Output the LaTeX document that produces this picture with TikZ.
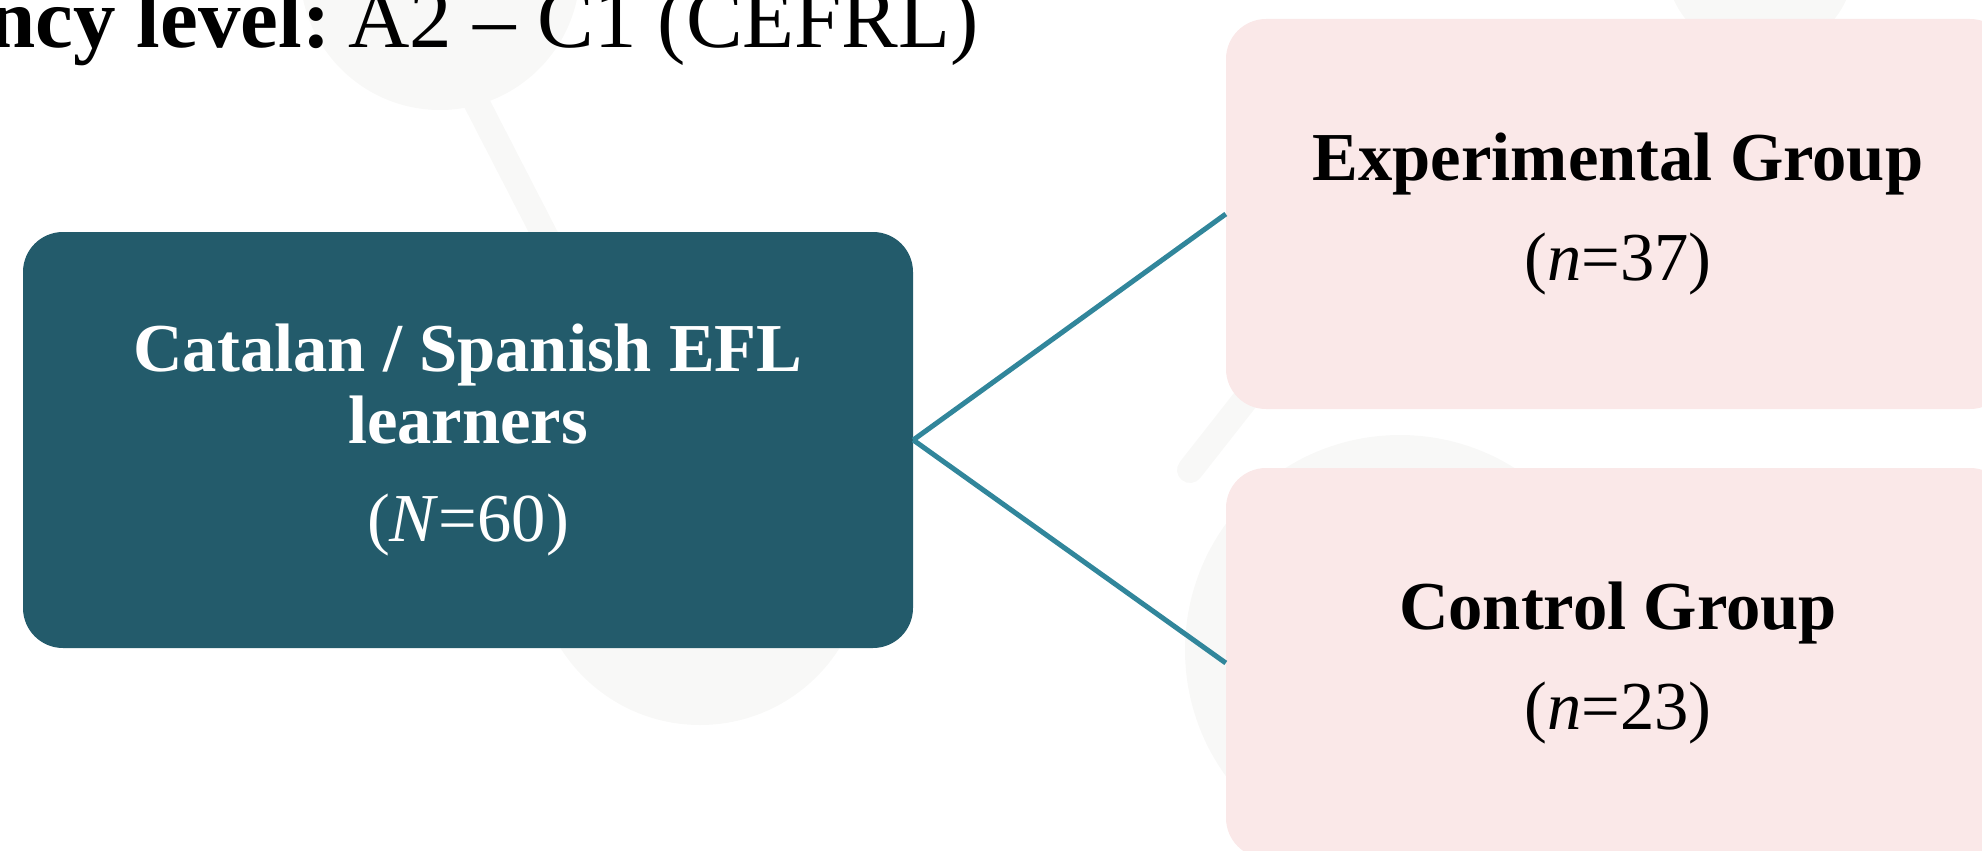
\documentclass[tikz,border=0pt]{standalone}
\usepackage{fontspec}
\setmainfont{Liberation Serif}
\definecolor{darkteal}{HTML}{235B6B}
\definecolor{linkteal}{HTML}{31869B}
\definecolor{softpink}{HTML}{FAE8E8}
\definecolor{ghost}{HTML}{F8F8F7}
\tikzset{
  mainbox/.style={fill=darkteal, rounded corners=40pt, inner sep=0pt, align=center, text=white,
    font=\fontsize{68.6}{72}\selectfont},
  groupbox/.style={fill=softpink, rounded corners=40pt, inner sep=0pt, align=center, text=black,
    minimum width=784pt, minimum height=390pt, font=\fontsize{68.6}{72}\selectfont},
  link/.style={draw=linkteal, line width=5pt},
  toptext/.style={inner sep=0pt, anchor=base west, font=\fontsize{85}{88}\selectfont},
  ghostball/.style={fill=ghost, draw=none},
  ghostrod/.style={draw=ghost, line width=26pt, line cap=round}
}
\begin{document}
\begin{tikzpicture}[x=1pt, y=-1pt]
\useasboundingbox (0,0) rectangle (1982,851);
\clip (0,0) rectangle (1982,851);
% very faint background watermark
\draw[ghostrod] (470,90) -- (640,420);
\draw[ghostrod] (1190,470) -- (1300,330);
\fill[ghostball] (440,-30) circle (140);
\fill[ghostball] (700,560) circle (165);
\fill[ghostball] (1400,650) circle (215);
\fill[ghostball] (1760,-40) circle (95);
% title text (clipped at the left edge)
\node[toptext] (title) at (-12,48) {\textbf{ncy level:}\hspace{18pt}A2 – C1 (CEFRL)};
% boxes
\node[mainbox, minimum width=890pt, minimum height=416pt] (learners) at (468,440)
  {\textbf{Catalan / Spanish EFL}\\\textbf{learners}\\[26pt](\textit{N}=60)};
\node[groupbox] (exp) at (1618,214)
  {\textbf{Experimental Group}\\[28pt](\textit{n}=37)};
\node[groupbox] (ctl) at (1618,663)
  {\textbf{Control Group}\\[28pt](\textit{n}=23)};
% connectors
\draw[link] (learners.east) -- (exp.west);
\draw[link] (learners.east) -- (ctl.west);
\end{tikzpicture}
\end{document}
